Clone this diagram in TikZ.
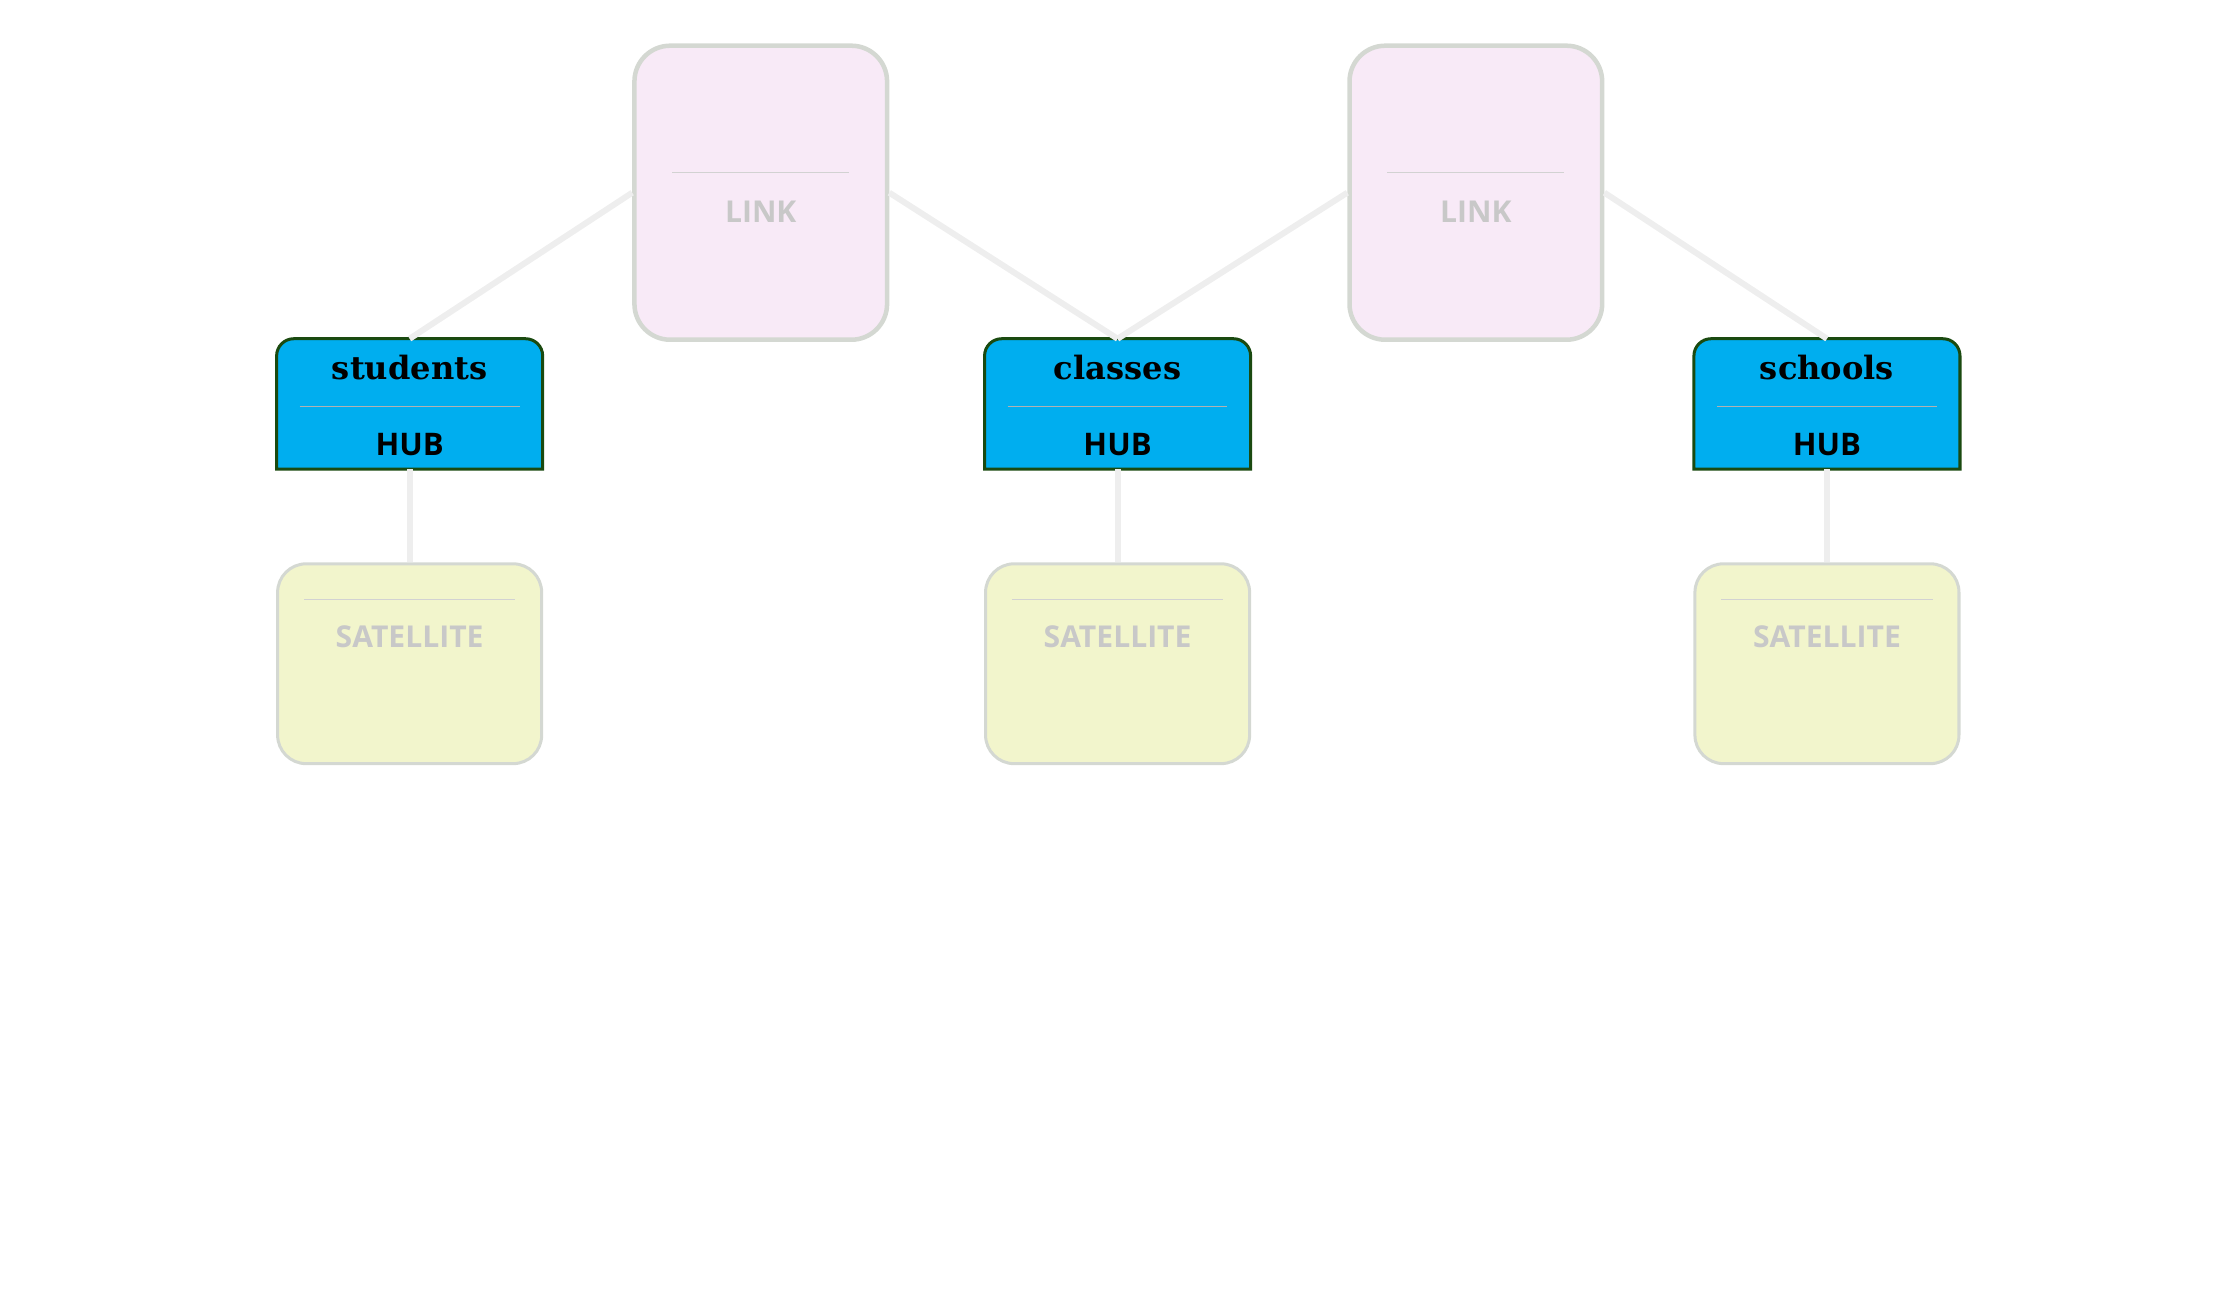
\documentclass[tikz,border=0pt]{standalone}
\usepackage{fontspec}
\setsansfont{Open Sans}
\newfontfamily\hubtitle{DejaVu Serif}
\usetikzlibrary{positioning, calc}
\definecolor{hubblue}{HTML}{00AEEF}
\definecolor{hubedge}{HTML}{1A4A10}
\definecolor{linkpink}{HTML}{F8EAF7}
\definecolor{satyellow}{HTML}{F2F5CC}
\definecolor{boxgray}{HTML}{D4D8D2}
\definecolor{wiregray}{HTML}{EEEEEE}
\definecolor{labelgray}{HTML}{C8C8C8}
\tikzstyle{link}=[rectangle, rounded corners=0.25cm, draw=boxgray, line width=0.9pt,
  fill=linkpink, minimum width=1.77cm, minimum height=2.06cm]
\tikzstyle{satellite}=[rectangle, rounded corners=0.2cm, draw=boxgray, line width=0.6pt,
  fill=satyellow, minimum width=1.85cm, minimum height=1.4cm]
\tikzstyle{hub}=[rectangle, minimum width=1.85cm, minimum height=0.9cm, inner sep=0pt]
\tikzstyle{wire}=[wiregray, line width=1.2pt]
\tikzstyle{sepline}=[gray!60, line width=0.15pt]
\tikzstyle{greylabel}=[text=labelgray, font=\sffamily\bfseries\fontsize{6}{7}\selectfont]

\begin{document}
\begin{tikzpicture}
    \useasboundingbox (0,0) rectangle (15.68,-9.05);
    	% Link boxes
    	\node[link] (linkA) at (5.33,-1.35) {};
    	\node[link] (linkB) at (10.34,-1.35) {};
    	
    	% Hubs
    	\foreach \name/\x in {students/2.87, classes/7.83, schools/12.80} {
    		\node[hub] (\name) at (\x,-2.83) {};
    		\fill[hubblue, draw=hubedge, line width=0.6pt, rounded corners=0.12cm]
    			(\name.south west) -- (\name.north west) -- (\name.north east)
    			[sharp corners] -- (\name.south east) -- cycle;
    		\node[font=\hubtitle\bfseries\fontsize{6.4}{7}\selectfont] at ($(\name.north)+(0,-0.2)$) {\name};
    		\draw[sepline] ($(\name.center)+(-0.77,-0.02)$) -- ($(\name.center)+(0.77,-0.02)$);
    		\node[font=\sffamily\bfseries\fontsize{6.2}{7}\selectfont] at ($(\name.south)+(0,0.17)$) {HUB};
    		% Satellites
    		\node[satellite] (\name-sat) at (\x,-4.65) {};
    		\draw[sepline, gray!35] ($(\name-sat.north)+(-0.74,-0.26)$) -- ($(\name-sat.north)+(0.74,-0.26)$);
    		\node[greylabel] at ($(\name-sat.north)+(0,-0.52)$) {SATELLITE};
    		\draw[wire] (\name.south) -- (\name-sat.north);
    	}
    	
    	% Link labels
    	\foreach \l in {linkA, linkB} {
    		\draw[sepline, gray!35] ($(\l.center)+(-0.62,0.14)$) -- ($(\l.center)+(0.62,0.14)$);
    		\node[greylabel] at ($(\l.center)+(0,-0.13)$) {LINK};
    	}
    	
    	% Wires
    	\draw[wire] (linkA.west) -- (students.north);
    	\draw[wire] (linkA.east) -- (classes.north);
    	\draw[wire] (linkB.west) -- (classes.north);
    	\draw[wire] (linkB.east) -- (schools.north);
\end{tikzpicture}
\end{document}
